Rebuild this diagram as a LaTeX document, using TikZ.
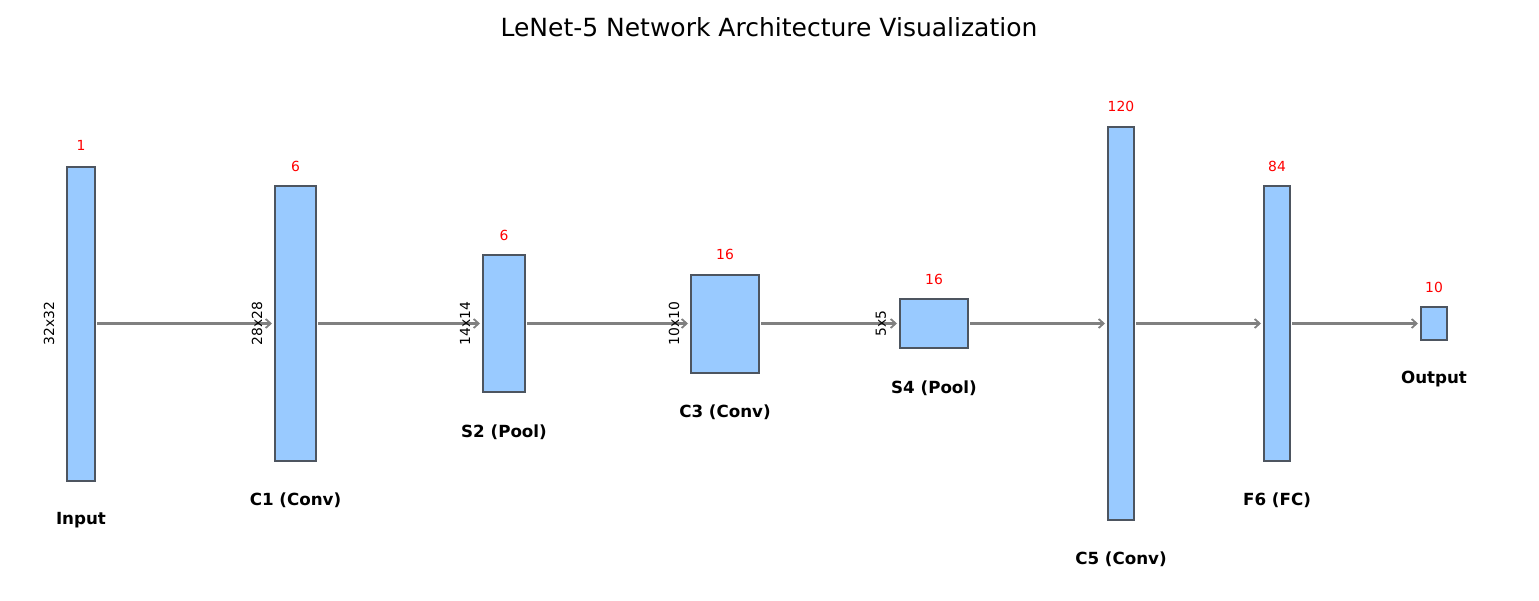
\documentclass[tikz,border=0pt]{standalone}
\usepackage{fontspec}
\setmainfont{DejaVu Sans}
\usetikzlibrary{arrows.meta}
\definecolor{boxfill}{RGB}{153,202,255}
\definecolor{boxdraw}{RGB}{77,85,96}
\definecolor{arrgray}{RGB}{128,128,128}
\tikzset{
  layer/.style={draw=boxdraw, fill=boxfill, line width=2pt, inner sep=0pt, outer sep=0pt},
  arr/.style={draw=arrgray, line width=2.2pt, -{Straight Barb[length=5pt,width=9pt,line width=1.8pt]}},
  chan/.style={text=red, font=\fontsize{13.9}{16}\selectfont},
  dimlbl/.style={rotate=90, font=\fontsize{13.9}{16}\selectfont},
  lyrname/.style={font=\fontsize{16.7}{20}\selectfont\bfseries},
}
\begin{document}
\begin{tikzpicture}[x=1pt,y=-1pt]
\useasboundingbox (0,0) rectangle (1539,600);
\node[font=\fontsize{25}{30}\selectfont] (title) at (769,27) {LeNet-5 Network Architecture Visualization};
% layers
\node[layer, minimum width=28pt, minimum height=314pt] (in) at (81,323.5) {};
\node[layer, minimum width=41pt, minimum height=275pt] (c1) at (295.5,323.5) {};
\node[layer, minimum width=42pt, minimum height=137pt] (s2) at (504,323.5) {};
\node[layer, minimum width=68pt, minimum height=98pt] (c3) at (725,323.5) {};
\node[layer, minimum width=68pt, minimum height=49pt] (s4) at (934,323.5) {};
\node[layer, minimum width=26pt, minimum height=393pt] (c5) at (1121,323.5) {};
\node[layer, minimum width=26pt, minimum height=275pt] (f6) at (1277,323.5) {};
\node[layer, minimum width=26pt, minimum height=33pt] (out) at (1434,323.5) {};
% channel numbers
\node[chan] (nin) at ([yshift=21pt]in.north) {1};
\node[chan] (nc1) at ([yshift=20pt]c1.north) {6};
\node[chan] (ns2) at ([yshift=20pt]s2.north) {6};
\node[chan] (nc3) at ([yshift=20pt]c3.north) {16};
\node[chan] (ns4) at ([yshift=20pt]s4.north) {16};
\node[chan] (nc5) at ([yshift=21pt]c5.north) {120};
\node[chan] (nf6) at ([yshift=20pt]f6.north) {84};
\node[chan] (nout) at ([yshift=20pt]out.north) {10};
% names
\node[lyrname] (lin) at ([yshift=-40pt]in.south) {Input};
\node[lyrname] (lc1) at ([yshift=-39pt]c1.south) {C1 (Conv)};
\node[lyrname] (ls2) at ([yshift=-40pt]s2.south) {S2 (Pool)};
\node[lyrname] (lc3) at ([yshift=-40pt]c3.south) {C3 (Conv)};
\node[lyrname] (ls4) at ([yshift=-40pt]s4.south) {S4 (Pool)};
\node[lyrname] (lc5) at ([yshift=-39pt]c5.south) {C5 (Conv)};
\node[lyrname] (lf6) at ([yshift=-39pt]f6.south) {F6 (FC)};
\node[lyrname] (lout) at ([yshift=-39pt]out.south) {Output};
% arrows
\draw[arr] ([xshift=2pt]in.east) -- ([xshift=-3pt]c1.west);
\draw[arr] ([xshift=2pt]c1.east) -- ([xshift=-3pt]s2.west);
\draw[arr] ([xshift=2pt]s2.east) -- ([xshift=-3pt]c3.west);
\draw[arr] ([xshift=2pt]c3.east) -- ([xshift=-3pt]s4.west);
\draw[arr] ([xshift=2pt]s4.east) -- ([xshift=-3pt]c5.west);
\draw[arr] ([xshift=2pt]c5.east) -- ([xshift=-3pt]f6.west);
\draw[arr] ([xshift=2pt]f6.east) -- ([xshift=-3pt]out.west);
% dimension labels
\node[dimlbl] (din) at ([xshift=-18pt]in.west) {32x32};
\node[dimlbl] (dc1) at ([xshift=-18pt]c1.west) {28x28};
\node[dimlbl] (ds2) at ([xshift=-18pt]s2.west) {14x14};
\node[dimlbl] (dc3) at ([xshift=-17pt]c3.west) {10x10};
\node[dimlbl] (ds4) at ([xshift=-19pt]s4.west) {5x5};
\end{tikzpicture}
\end{document}
